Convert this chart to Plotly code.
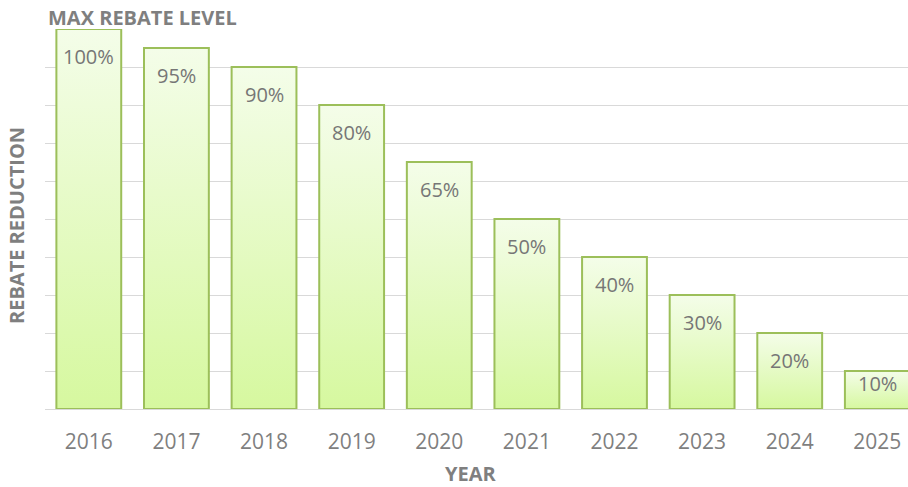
import plotly.graph_objects as go

years = ["2016", "2017", "2018", "2019", "2020", "2021", "2022", "2023", "2024", "2025"]
values = [100, 95, 90, 80, 65, 50, 40, 30, 20, 10]
labels = ["100%", "95%", "90%", "80%", "65%", "50%", "40%", "30%", "20%", "10%"]

HALF = 0.37
GRAY = "#7f7f7f"
FONT = "Open Sans"
PX_PER_UNIT = 380 / 100  # plot height / y range

fig = go.Figure()
for i, v in enumerate(values):
    xs = [i - HALF, i - HALF, i + HALF, i + HALF, i - HALF]
    ys = [0, v, v, 0, 0]
    fig.add_trace(go.Scatter(
        x=xs, y=ys, mode="lines", fill="toself",
        line=dict(color="#9cbf5a", width=2),
        fillgradient=dict(type="vertical", start=0, stop=v,
                          colorscale=[[0, "#d6f89f"], [1, "#f4fde9"]]),
        hoverinfo="skip", showlegend=False,
    ))
    shift = -min(27.5, v * PX_PER_UNIT - 26)
    fig.add_annotation(x=i, y=v, text=labels[i], showarrow=False,
                       yanchor="middle", yshift=shift,
                       font=dict(family=FONT, size=20, color="#767676"))

fig.add_annotation(x=0, y=1, xref="paper", yref="paper", text="<b>MAX REBATE LEVEL</b>",
                   showarrow=False, xanchor="left", yanchor="middle", xshift=1, yshift=12,
                   font=dict(family=FONT, size=20, color=GRAY))
fig.add_annotation(x=0.5, y=0, xref="paper", yref="paper", text="<b>YEAR</b>",
                   showarrow=False, xanchor="center", yanchor="middle", yshift=-64,
                   xshift=-6, font=dict(family=FONT, size=20, color=GRAY))
fig.add_annotation(x=0, y=0.5, xref="paper", yref="paper", text="<b>REBATE REDUCTION</b>",
                   showarrow=False, xanchor="center", yanchor="middle", xshift=-29, yshift=-7,
                   textangle=-90, font=dict(family=FONT, size=20, color=GRAY))

fig.update_layout(
    width=908, height=487,
    margin=dict(l=45, r=0, t=29, b=78),
    paper_bgcolor="white", plot_bgcolor="white",
    xaxis=dict(range=[-0.5, 9.35], tickvals=list(range(len(years))), ticktext=years,
               showgrid=False, zeroline=False, showline=False, ticks="",
               tickfont=dict(family=FONT, size=21, color=GRAY), ticklabelstandoff=18),
    yaxis=dict(range=[0, 100], dtick=10, showticklabels=False, gridcolor="#d9d9d9",
               gridwidth=1, zeroline=True, zerolinecolor="#d9d9d9", zerolinewidth=1,
               ticks=""),
)
fig.write_html("out.html")
